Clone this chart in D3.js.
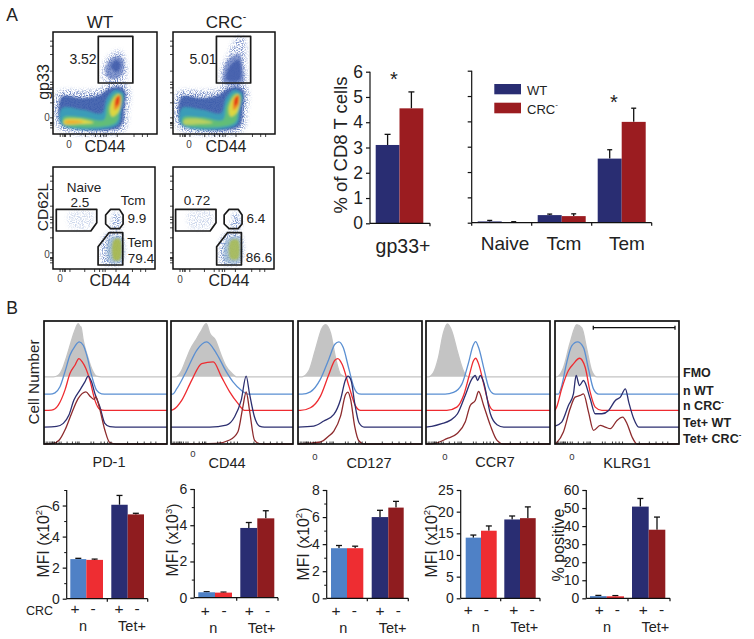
<!DOCTYPE html>
<html><head><meta charset="utf-8">
<script src="https://cdn.jsdelivr.net/npm/d3@7"></script>
<style>html,body{margin:0;padding:0;background:#fff}svg{display:block}text{font-family:"Liberation Sans",Arial,sans-serif;fill:#222}</style>
</head><body><div id="c"></div>
<script>
// ---------- bar data ----------
const compartments=["Naive","Tcm","Tem"];
const gp33Means=[3.1,4.55], gp33Tops=[3.52,5.2];
const compWT=[0.05,0.3,2.53], compWTTop=[0.09,0.34,2.88];
const compCRC=[0.02,0.26,3.98], compCRCTop=[0.04,0.35,4.52];
const mfiGroups=["n+","n-","Tet+","Tet-"];
const pd1Bars=[2.55,2.5,6.05,5.43], pd1Tops=[2.6,2.55,6.65,5.5];
const cd44Bars=[0.3,0.28,3.85,4.38], cd44Tops=[0.33,0.31,4.15,4.8];
const cd127Bars=[3.7,3.7,6.0,6.7], cd127Tops=[3.9,3.85,6.5,7.16];
const ccr7Bars=[14,15.6,18.2,18.5], ccr7Tops=[14.6,16.7,19,21.1];
const klrg1Bars=[1.2,1.1,50.8,38], klrg1Tops=[1.6,1.5,55.3,45];
// ---------- histogram data: [channel, count above own baseline] ----------
const histNames=["FMO","n WT","n CRC","Tet WT","Tet CRC"];
const histBase=[202,150,101,51,0];
const pd1Hist=[
[[28,0],[43,5],[58,30],[68,60],[80,100],[93,140],[103,160],[108,152],[111,150],[118,110],[130,65],[143,25],[158,2],[173,0]],
[[18,0],[33,4],[48,22],[63,67],[78,117],[93,144],[106,157],[118,147],[130,112],[143,57],[158,12],[173,1],[190,0]],
[[23,1],[43,16],[63,61],[78,111],[93,136],[105,156],[115,146],[126,126],[138,91],[153,31],[168,3],[183,0]],
[[38,2],[58,11],[75,36],[90,81],[108,111],[123,136],[133,153],[143,136],[153,101],[168,61],[183,11],[198,1],[215,0]],
[[28,2],[46,12],[63,42],[83,92],[103,137],[126,157],[140,142],[151,134],[156,142],[166,112],[183,42],[198,4],[218,0]]];
const cd44Hist=[
[[13,0],[30,15],[45,50],[60,85],[75,110],[90,135],[107,160],[118,130],[135,110],[150,70],[165,35],[185,10],[198,0]],
[[5,0],[18,17],[48,72],[78,132],[108,157],[138,122],[168,67],[188,37],[213,12],[233,0]],
[[8,3],[33,31],[63,91],[93,141],[128,146],[153,101],[178,56],[203,21],[223,0]],
[[118,0],[168,6],[193,31],[213,81],[228,153],[238,101],[253,31],[268,3],[283,0]],
[[138,2],[178,12],[203,37],[218,112],[228,157],[238,102],[253,12],[268,1],[285,0]]];
const cd127Hist=[
[[12,0],[32,17],[52,82],[72,147],[82,157],[97,132],[112,57],[127,7],[142,0]],
[[12,0],[37,7],[67,45],[92,105],[110,150],[122,157],[135,140],[152,75],[167,20],[182,1],[195,0]],
[[7,0],[37,8],[67,43],[92,108],[110,151],[119,156],[132,138],[152,73],[172,13],[187,0]],
[[47,3],[77,18],[107,38],[127,83],[142,143],[149,153],[159,138],[169,73],[182,13],[197,0]],
[[67,6],[92,24],[107,39],[127,84],[142,149],[149,156],[157,134],[169,54],[182,9],[197,0]]];
const ccr7Hist=[
[[7,0],[22,12],[37,57],[52,132],[64,159],[77,137],[92,82],[112,17],[127,0]],
[[57,0],[82,5],[107,30],[127,95],[140,145],[148,158],[157,140],[172,80],[187,20],[202,1],[212,0]],
[[62,0],[92,10],[112,45],[129,105],[142,150],[148,157],[157,140],[172,80],[187,20],[202,0]],
[[17,2],[47,10],[72,20],[94,40],[117,95],[137,145],[147,155],[154,140],[162,155],[172,135],[192,40],[212,7],[232,0]],
[[27,2],[62,16],[92,31],[117,66],[132,116],[147,131],[157,158],[172,116],[192,56],[212,11],[232,0]]];
const klrg1Hist=[
[[5,0],[25,27],[45,102],[65,157],[80,147],[95,82],[110,17],[125,0]],
[[10,0],[20,25],[35,95],[50,145],[67,157],[85,140],[100,75],[115,15],[130,0]],
[[5,10],[20,65],[40,120],[55,140],[73,157],[90,130],[105,55],[120,10],[140,0]],
[[0,3],[20,15],[40,65],[55,100],[63,155],[73,125],[85,140],[105,85],[120,40],[140,40],[160,50],[180,80],[195,90],[210,115],[220,75],[235,25],[250,0]],
[[5,4],[25,36],[45,106],[60,141],[75,146],[85,151],[100,96],[115,41],[135,56],[150,51],[165,46],[185,71],[202,81],[215,61],[230,21],[245,0]]];
// ---------- flow density contours: [CD44 channel, marker channel] ----------
const mainHalo=[[14,125],[90,130],[140,135],[170,155],[205,160],[228,130],[224,70],[210,10],[25,10],[8,35]];
const mainBlue=[[26,112],[90,108],[140,118],[168,137],[198,142],[216,127],[213,82],[200,22],[32,22],[19,37]];
const mainTeal=[[27,77],[91,72],[146,62],[161,107],[186,132],[209,122],[203,72],[191,27],[26,27]];
const mainGreen=[[31,50],[91,50],[151,42],[163,87],[186,122],[206,117],[199,72],[186,32],[31,29]];
const stripYellow=[[33,42],[81,45],[121,34],[81,30],[33,30]];
const stripOrange=[[36,39],[76,40],[91,35],[36,32]];
const peakYellow=[[181,107],[196,120],[203,107],[196,67],[176,52],[169,72]];
const peakOrange=[[186,107],[199,117],[199,87],[184,72]];
const peakRed=[[188,107],[197,114],[196,92],[187,84]];
const wtClusterHalo=[[150,160],[150,205],[172,240],[200,250],[218,215],[214,160]];
const wtCluster=[[[156,198],[170,223],[195,234],[210,223],[207,180],[185,165],[162,172]],[[172,203],[190,222],[202,208],[190,185]]];
const crcClusterHalo=[[148,150],[148,200],[165,235],[195,290],[215,290],[222,200],[220,150]];
const crcCluster=[[[154,193],[167,223],[202,240],[212,203],[212,153],[154,153]],[[172,203],[200,223],[204,163],[162,163]]];
const naiveCloud=[[45,165],[120,172],[115,125],[55,122]];
const tcmCloud=[[186,170],[206,157],[206,122],[176,122],[181,147]];
const wtTem=[[[161,105],[206,107],[209,17],[151,17],[146,62]],[[171,92],[206,97],[209,22],[171,22]],[[184,87],[204,90],[204,27],[184,27]]];
const crcTem=[[[158,105],[205,107],[207,17],[147,17],[142,62]],[[165,90],[205,95],[206,22],[160,22]],[[176,85],[200,88],[200,30],[176,30]]];
// gates
const topGateWT=[[135,293],[238,293],[238,153],[135,153]];
const topGateCRC=[[132,293],[236,293],[236,153],[132,153]];
const lowGatesWT=[[[10,179],[133,179],[133,139],[115,114],[10,114]],[[175,179],[202,179],[213,162],[213,135],[202,121],[175,121],[160,135],[160,162]],[[170,109],[212,109],[212,12],[137,12],[137,67]]];
const lowGatesCRC=[[[8,179],[132,179],[132,139],[114,114],[8,114]],[[172,179],[200,179],[212,162],[212,135],[200,121],[172,121],[157,135],[157,162]],[[167,109],[210,109],[210,12],[134,12],[134,67]]];
const flowTicks=[20,28,33,36,50,95,125,140,150,157,190,240,265,280];

const NAVY="#292d72",DRED="#9b1c20",LBLUE="#4f81c6",LRED="#ee2d32",TRED="#8f1c1f",INK="#111";
const svg=d3.select("#c").append("svg").attr("width",754).attr("height",639);
const defs=svg.append("defs");
const pad={x:"-20%",y:"-20%",width:"140%",height:"140%"};
const fb=defs.append("filter").attr("id","blur");Object.entries(pad).forEach(([k,v])=>fb.attr(k,v));
fb.append("feGaussianBlur").attr("stdDeviation",1.1);
const fs=defs.append("filter").attr("id","speck");Object.entries(pad).forEach(([k,v])=>fs.attr(k,v));
fs.append("feGaussianBlur").attr("in","SourceGraphic").attr("stdDeviation",2).attr("result","soft");
fs.append("feTurbulence").attr("type","fractalNoise").attr("baseFrequency",.85).attr("numOctaves",1).attr("seed",4).attr("result","n");
fs.append("feColorMatrix").attr("in","n").attr("type","matrix").attr("values","0 0 0 0 0  0 0 0 0 0  0 0 0 0 0  5 0 0 0 -2.2").attr("result","m");
fs.append("feComposite").attr("in","soft").attr("in2","m").attr("operator","in");
function txt(x,y,s,size,o={}){
  const t=svg.append("text").attr("x",x).attr("y",y).attr("font-size",size).attr("text-anchor",o.anchor||"middle").attr("dominant-baseline","central");
  if(o.rot!==undefined)t.attr("transform",`rotate(${o.rot} ${x} ${y})`);
  if(o.weight)t.attr("font-weight",o.weight);
  if(o.fill)t.style("fill",o.fill);
  t.text(s);
  if(o.sup){t.append("tspan").attr("dy",-size*.38).attr("font-size",size*.62).text(o.sup);}
  return t;
}
// ---------- flow plots ----------
function flowPlot(box,gates,draw){
  const x=d3.scaleLinear().domain([0,310]).range([box.l,box.r]);
  const y=d3.scaleLinear().domain([0,306]).range([box.b,box.t]);
  const g=svg.append("g");
  const area=d3.line().x(d=>x(d[0])).y(d=>y(d[1])).curve(d3.curveCatmullRomClosed.alpha(.5));
  const sg=g.append("g").attr("filter","url(#speck)");
  const dg=g.append("g").attr("filter","url(#blur)");
  const speck=(pts,col,op=1)=>sg.append("path").attr("d",area(pts)).attr("fill",col).attr("opacity",op);
  const blob=(pts,col,op=1)=>dg.append("path").attr("d",area(pts)).attr("fill",col).attr("opacity",op);
  draw(blob,speck);
  g.append("rect").attr("x",box.l).attr("y",box.t).attr("width",box.r-box.l).attr("height",box.b-box.t).attr("fill","none").attr("stroke",INK).attr("stroke-width",1.5);
  g.append("g").attr("transform",`translate(0,${box.b})`).call(d3.axisBottom(x).tickValues(flowTicks).tickSize(3).tickFormat("")).call(s=>s.select(".domain").remove()).selectAll("line").attr("stroke",INK).attr("stroke-width",.8);
  g.append("g").attr("transform",`translate(${box.l},0)`).call(d3.axisLeft(y).tickValues(flowTicks).tickSize(3).tickFormat("")).call(s=>s.select(".domain").remove()).selectAll("line").attr("stroke",INK).attr("stroke-width",.8);
  const poly=d3.line().x(d=>x(d[0])).y(d=>y(d[1])).curve(d3.curveLinearClosed);
  gates.forEach(p=>g.append("path").attr("d",poly(p)).attr("fill","none").attr("stroke","#1a1a1a").attr("stroke-width",1.7).attr("stroke-linejoin","round"));
}
function mainPop(blob,speck,strong,halo,cluster){
  speck(mainHalo,"#3f5fae",.8);speck(halo,"#5a74bb",.75);
  blob(mainBlue,"#3e5dab",.92);blob(mainTeal,"#3a9cb8");blob(mainGreen,"#62bd78");
  blob(stripYellow,strong?"#dcd848":"#b8d060");
  if(strong)blob(stripOrange,"#edae32");
  blob(peakYellow,"#dcd63f");blob(peakOrange,"#ee8a26");blob(peakRed,"#e23a16");
  blob(cluster[0],"#5f78bd",.75);blob(cluster[1],"#3f5caa",.85);
}
flowPlot({l:53,r:157,t:32,b:134},[topGateWT],(b,s)=>mainPop(b,s,true,wtClusterHalo,wtCluster));
flowPlot({l:173,r:275,t:32,b:134},[topGateCRC],(b,s)=>mainPop(b,s,false,crcClusterHalo,crcCluster));
const lowDraw=(tem,cols)=>(b,s)=>{
  s(naiveCloud,"#9db1da",.5);s(tcmCloud,"#6f8cc8",.95);s(tem[0],"#6f8cc8",1);
  b(tem[1],"#93b3cf",.75);b(tem[2],cols,.9);};
flowPlot({l:53,r:155,t:167,b:269},lowGatesWT,lowDraw(wtTem,"#a9b94c"));
flowPlot({l:173,r:274,t:167,b:269},lowGatesCRC,lowDraw(crcTem,"#a9bd58"));
txt(12,15,"A",17.5);txt(12,308,"B",17.5);
txt(100,22,"WT",17);txt(226,22,"CRC",17,{sup:"-"});
txt(43,82,"gp33",16,{rot:-90});txt(105,146,"CD44",16);txt(226,146,"CD44",16);
txt(69,144,"0",10,{fill:"#444"});txt(189,144,"0",10,{fill:"#444"});txt(47,117,"0",10,{fill:"#444"});
txt(83,59,"3.52",14);txt(203,59,"5.01",14);
txt(42,207,"CD62L",15.5,{rot:-90});txt(110,280,"CD44",16);txt(229,280,"CD44",16);
txt(60,278,"0",10,{fill:"#444"});txt(180,279,"0",10,{fill:"#444"});txt(47,254,"0",10,{fill:"#444"});
[["Naive",84,187],["2.5",80,202],["Tcm",133,200],["9.9",137,218],["Tem",140,242.5],["79.4",141,258],["0.72",197,200],["6.4",256,218],["86.6",259,257]].forEach(d=>txt(d[1],d[2],d[0],13.5));
// ---------- panel A bars ----------
function axisY(y,xp,ticks,minor,fsz,labels=true){
  const g=svg.append("g").attr("transform",`translate(${xp},0)`);
  g.call(d3.axisLeft(y).tickValues(ticks).tickSize(4).tickPadding(3).tickFormat(labels?d3.format("d"):""));
  g.select(".domain").attr("stroke",INK).attr("stroke-width",1.2).attr("d",`M0,${y.range()[0]}V${y.range()[1]}`);
  g.selectAll("line").attr("stroke",INK).attr("stroke-width",1.2);
  g.selectAll("text").attr("font-size",fsz).style("fill","#222");
  if(minor.length){const m=svg.append("g").attr("transform",`translate(${xp},0)`).call(d3.axisLeft(y).tickValues(minor).tickSize(2.5).tickFormat(""));m.select(".domain").remove();m.selectAll("line").attr("stroke",INK).attr("stroke-width",1);}
}
function bar(x,w,y,v,top,col,capw){
  svg.append("line").attr("x1",x+w/2).attr("x2",x+w/2).attr("y1",y(v)).attr("y2",y(top)).attr("stroke",INK).attr("stroke-width",1.3);
  svg.append("line").attr("x1",x+w/2-capw/2).attr("x2",x+w/2+capw/2).attr("y1",y(top)).attr("y2",y(top)).attr("stroke",INK).attr("stroke-width",1.3);
  svg.append("rect").attr("x",x).attr("y",y(v)).attr("width",w).attr("height",y(0)-y(v)).attr("fill",col);
}
function baseline(x0,x1,yb,ticks){
  svg.append("line").attr("x1",x0).attr("x2",x1).attr("y1",yb).attr("y2",yb).attr("stroke",INK).attr("stroke-width",1.2);
  ticks.forEach(t=>svg.append("line").attr("x1",t).attr("x2",t).attr("y1",yb).attr("y2",yb+3).attr("stroke",INK).attr("stroke-width",1.2));
}
{
  const y=d3.scaleLinear().domain([0,6]).range([223.3,71.7]);
  const x=d3.scaleBand().domain(["WT","CRC"]).range([375.7,423.3]);
  bar(x("WT"),x.bandwidth(),y,gp33Means[0],gp33Tops[0],NAVY,6);
  bar(x("CRC"),x.bandwidth(),y,gp33Means[1],gp33Tops[1],DRED,6);
  axisY(y,370,d3.range(0,7),[],17.5);
  baseline(370,430,223.3,[430]);
  txt(340,145,"% of CD8 T cells",18.5,{rot:-90});
  txt(403,246,"gp33+",19.5);txt(394,79,"*",20);
  const y2=d3.scaleLinear().domain([0,6]).range([222.7,70.7]);
  const xg=d3.scaleBand().domain(compartments).range([471.7,651.7]).paddingInner(.2).paddingOuter(.1);
  compartments.forEach((c,i)=>{
    const w=xg.bandwidth()/2;
    bar(xg(c),w,y2,compWT[i],compWTTop[i],NAVY,5);
    bar(xg(c)+w,w,y2,compCRC[i],compCRCTop[i],DRED,5);
  });
  axisY(y2,471.7,d3.range(0,7),[],15.5,false);
  baseline(471.7,651.7,222.7,[471.7,531.7,591.7,651.7]);
  [505,564,627].forEach((xx,i)=>txt(xx,243,compartments[i],19));
  txt(614,102,"*",20);
  svg.append("rect").attr("x",494.3).attr("y",84).attr("width",26.7).attr("height",10.3).attr("fill",NAVY);
  svg.append("rect").attr("x",494.3).attr("y",102.7).attr("width",26.7).attr("height",10.6).attr("fill",DRED);
  txt(527,90,"WT",13,{anchor:"start"});txt(527,109,"CRC",13,{anchor:"start",sup:"-"});
}
// ---------- histograms ----------
const histColors=["#c4c4c4","#5a8fd2","#ee2b30","#2c2f70","#8d2b2d"];
const hy=d3.scaleLinear().domain([0,370]).range([444,321]);
const panelsH=[{l:44,r:167,d:pd1Hist,t:"PD-1",tx:109,z:null,ty:462},{l:171,r:293,d:cd44Hist,t:"CD44",tx:227,z:[193,453],ty:463},{l:298,r:422,d:cd127Hist,t:"CD127",tx:369,z:[315,456],ty:463},{l:426,r:550,d:ccr7Hist,t:"CCR7",tx:495,z:[445,456],ty:462},{l:555,r:679,d:klrg1Hist,t:"KLRG1",tx:627,z:[572,456],ty:463}];
const histTicks=[5,10,16,20,24,26,30,36,44,50,68,84,94,100,104,140,148,170,180,190,200,250,280,300,320,335];
panelsH.forEach(p=>{
  const x=d3.scaleLinear().domain([0,370]).range([p.l,p.r]);
  const g=svg.append("g");
  p.d.forEach((cur,i)=>{
    const full=[[0,0],...cur.filter(d=>d[0]>0),[370,0]];
    if(cur[0][0]===0)full[0]=cur[0];
    const yy=d=>hy(histBase[i]+d[1]);
    if(i===0){
      g.append("path").attr("d",d3.area().x(d=>x(d[0])).y0(hy(histBase[0])).y1(yy).curve(d3.curveMonotoneX)(full)).attr("fill",histColors[0]);
    }
    g.append("path").attr("d",d3.line().x(d=>x(d[0])).y(yy).curve(d3.curveMonotoneX)(full)).attr("fill","none").attr("stroke",histColors[i]).attr("stroke-width",1.3);
  });
  g.append("g").attr("transform","translate(0,444)").call(d3.axisTop(x).tickValues(histTicks).tickSize(2.5).tickFormat("")).call(s=>s.select(".domain").remove()).selectAll("line").attr("stroke",INK).attr("stroke-width",.8);
  g.append("rect").attr("x",p.l).attr("y",321).attr("width",p.r-p.l).attr("height",123).attr("fill","none").attr("stroke",INK).attr("stroke-width",1.7);
  txt(p.tx,p.ty,p.t,14.5);
  if(p.z)txt(p.z[0],p.z[1],"0",9.5,{fill:"#333"});
});
txt(33,382,"Cell Number",15.3,{rot:-90});
[["FMO",373],["n WT",391,],["n CRC",406,"-"],["Tet+ WT",423],["Tet+ CRC",439,"-"]].forEach(d=>txt(683,d[1],d[0],12.5,{anchor:"start",weight:"bold",sup:d[2]}));
svg.append("line").attr("x1",593.3).attr("x2",675).attr("y1",327.7).attr("y2",327.7).attr("stroke",INK).attr("stroke-width",1.3);
[593.3,675].forEach(xx=>svg.append("line").attr("x1",xx).attr("x2",xx).attr("y1",325.7).attr("y2",329.7).attr("stroke",INK).attr("stroke-width",1.3));
// ---------- panel B bars ----------
const barCols=[LBLUE,LRED,NAVY,TRED];
const charts=[
{v:pd1Bars,t:pd1Tops,max:7,y0:598.7,y1:490,ax:66.7,end:147.7,brk:107.3,b:[70.3,86.3,103,111.3,127.7,144],ticks:[0,2,4,6],minor:[1,3,5,7],sym:[75,93,119,137],n:83,tet:132,lbl:"MFI (x10",sup:"2",lx:43,ly:541,ys:608,yn:626},
{v:cd44Bars,t:cd44Tops,max:6,y0:597.7,y1:489,ax:194.3,end:278,brk:236.7,b:[198.3,215,232,240.3,257.3,274.3],ticks:[0,2,4,6],minor:[1,3,5],sym:[205.3,224,249.3,267.7],n:213.3,tet:261.7,lbl:"MFI (x10",sup:"3",lx:172.7,ly:540,ys:610,yn:628},
{v:cd127Bars,t:cd127Tops,max:8,y0:598.3,y1:490,ax:326.7,end:408.3,brk:367.3,b:[331,347,363.3,371.7,388.3,403.7],ticks:[0,2,4,6,8],minor:[1,3,5,7],sym:[336,354.3,380,398.3],n:343.3,tet:392.7,lbl:"MFI (x10",sup:"2",lx:303,ly:544,ys:610,yn:628},
{v:ccr7Bars,t:ccr7Tops,max:25,y0:598.3,y1:490,ax:460.7,end:540,brk:500.7,b:[465.7,481,496.7,504.3,520,535.7],ticks:[0,5,10,15,20,25],minor:[],sym:[468.3,486.3,513.7,532],n:475.7,tet:524.3,lbl:"MFI (x10",sup:"2",lx:431,ly:541,ys:609,yn:627},
{v:klrg1Bars,t:klrg1Tops,max:60,y0:598.3,y1:490,ax:586.3,end:670,brk:628,b:[590,606.7,624,632,648.7,665.3],ticks:[0,10,20,30,40,50,60],minor:[],sym:[599.3,617.3,643.3,661.7],n:607,tet:655.3,lbl:"% positive",sup:null,lx:558,ly:545,ys:609,yn:627}];
charts.forEach(c=>{
  const y=d3.scaleLinear().domain([0,c.max]).range([c.y0,c.y1]);
  const edges=[[c.b[0],c.b[1]],[c.b[1],c.b[2]],[c.b[3],c.b[4]],[c.b[4],c.b[5]]];
  mfiGroups.forEach((g,i)=>bar(edges[i][0],edges[i][1]-edges[i][0],y,c.v[i],c.t[i],barCols[i],6));
  axisY(y,c.ax,c.ticks,c.minor,14);
  baseline(c.ax,c.end,c.y0,[c.brk,c.end]);
  c.sym.forEach((sx,i)=>txt(sx,c.ys,i%2?"-":"+",15.5,{}));
  txt(c.n,c.yn,"n",14.5);txt(c.tet,c.yn,"Tet+",14.5);
  const t=txt(c.lx,c.ly,c.lbl,c.sup?15.8:16,{rot:-90});
  if(c.sup){t.append("tspan").attr("dy",-5).attr("font-size",9.5).text(c.sup);t.append("tspan").attr("dy",5).text(")");}
});
txt(26,611,"CRC",12.5,{anchor:"start"});
</script></body></html>
